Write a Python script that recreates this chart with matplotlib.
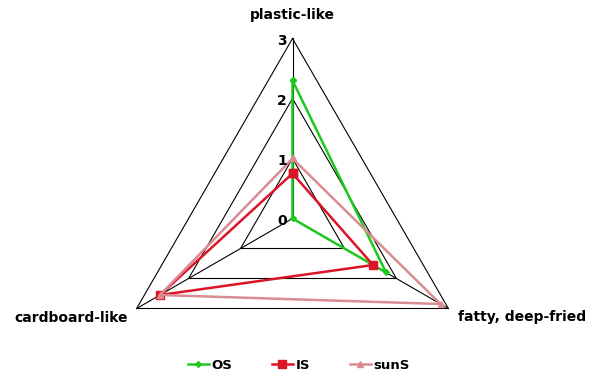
import numpy as np
import matplotlib
matplotlib.use('Agg')
import matplotlib.pyplot as plt
from matplotlib.lines import Line2D

# data
categories = ['plastic-like', 'fatty, deep-fried', 'cardboard-like']
series_names = ['OS', 'IS', 'sunS']
os_values = [2.3, 1.8, 0.0]
is_values = [0.75, 1.55, 2.55]
suns_values = [1.0, 2.85, 2.55]
rings = [1, 2, 3]
tick_values = [0, 1, 2, 3]

colors = ['#1ec81e', '#dc1428', '#d98c92']
markers = ['D', 's', '^']
msizes = [3, 6, 4]


def close(v):
    return list(v) + [v[0]]


angles = np.linspace(0, 2 * np.pi, len(categories), endpoint=False)
closed = close(list(angles))

fig = plt.figure(figsize=(6.01, 3.80), dpi=100)
ax = fig.add_axes([112.5 / 601, -18.5 / 380, 360 / 601, 360 / 380], projection='polar')
ax.set_theta_offset(np.pi / 2)
ax.set_theta_direction(-1)
ax.set_ylim(0, 3)
ax.axis('off')

# triangular grid + spokes
for r in rings:
    ax.plot(closed, [r] * len(closed), color='black', lw=0.8, clip_on=False, zorder=1)
for a in angles:
    ax.plot([a, a], [0, 3], color='black', lw=0.8, clip_on=False, zorder=1)

# series
all_values = [os_values, is_values, suns_values]
handles = []
for name, vals, c, m, ms in zip(series_names, all_values, colors, markers, msizes):
    ax.plot(closed, close(vals), color=c, lw=1.8, marker=m, ms=ms,
            markeredgecolor=c, clip_on=False, zorder=3)
    handles.append(Line2D([], [], color=c, lw=1.8, marker=m, ms=ms, label=name))

# radial tick labels
for v in tick_values:
    ax.annotate(str(v), xy=(0, v), xytext=(-4, -2), textcoords='offset points',
                ha='right', va='center', fontsize=10, fontweight='bold')

# category labels
ax.annotate(categories[0], xy=(angles[0], 3), xytext=(0, 12), textcoords='offset points',
            ha='center', va='bottom', fontsize=10, fontweight='bold')
ax.annotate(categories[1], xy=(angles[1], 3), xytext=(7, -6), textcoords='offset points',
            ha='left', va='center', fontsize=10, fontweight='bold')
ax.annotate(categories[2], xy=(angles[2], 3), xytext=(-6, -7), textcoords='offset points',
            ha='right', va='center', fontsize=10, fontweight='bold')

fig.legend(handles=handles, loc='lower center', bbox_to_anchor=(0.497, -0.01), ncol=3,
           frameon=False, columnspacing=3.0, handlelength=1.6, handletextpad=0.2,
           prop={'weight': 'bold', 'size': 9.5})

fig.savefig('out.png', dpi=100)
